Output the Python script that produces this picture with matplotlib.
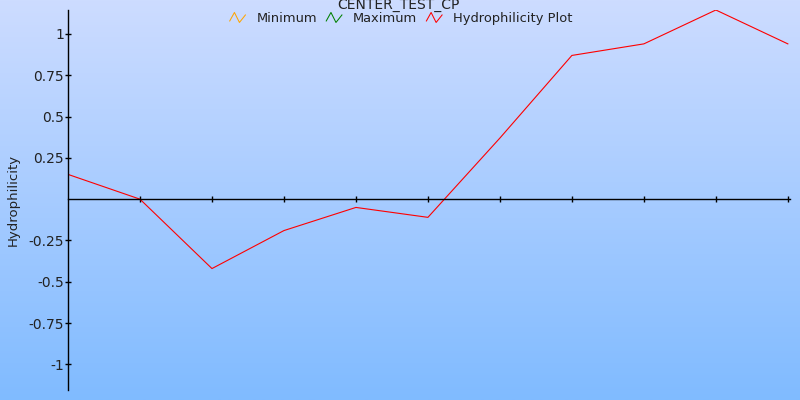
import numpy as np
import matplotlib
matplotlib.use("Agg")
from matplotlib import pyplot, ticker
from matplotlib.lines import Line2D
from matplotlib.legend_handler import HandlerBase

# data
positions = [0, 1, 2, 3, 4, 5, 6, 7, 8, 9, 10]
hydrophilicity = [0.15, 0.0, -0.42, -0.19, -0.05, -0.11, 0.37, 0.87, 0.94, 1.145, 0.94]
minimum = []
maximum = []
y_ticks = [-1, -0.75, -0.5, -0.25, 0.25, 0.5, 0.75, 1]
y_tick_labels = ["-1", "-0.75", "-0.5", "-0.25", "0.25", "0.5", "0.75", "1"]


class HandlerZigzag(HandlerBase):
    def create_artists(self, legend, orig_handle, xdescent, ydescent,
                       width, height, fontsize, trans):
        xs = np.array([0.0, 0.3, 0.62, 1.0]) * width - xdescent
        ys = np.array([0.15, 1.0, 0.0, 0.75]) * height - ydescent
        line = Line2D(xs, ys, color=orig_handle.get_color(), linewidth=0.75,
                      transform=trans)
        return [line]


def main():
    fig = pyplot.figure(figsize=(8, 4), dpi=100)

    # gradient background
    bg = fig.add_axes([0, 0, 1, 1], zorder=-10)
    top = np.array([205, 220, 255]) / 255.0
    bottom = np.array([128, 187, 255]) / 255.0
    t = np.linspace(0, 1, 256)[:, None]
    grad = (top[None, :] * (1 - t) + bottom[None, :] * t)[:, None, :]
    bg.imshow(grad, aspect="auto", extent=[0, 1, 0, 1])
    bg.set_axis_off()

    ax = fig.add_axes([68 / 800, 10 / 400, 722 / 800, 380 / 400])
    ax.set_facecolor("none")

    l_min, = ax.plot(minimum, minimum, color="#ffa500", linewidth=0.75, label="Minimum")
    l_max, = ax.plot(maximum, maximum, color="#008000", linewidth=0.75, label="Maximum")
    l_hyd, = ax.plot(positions, hydrophilicity, color="#ff0000", linewidth=0.8,
                     label="Hydrophilicity Plot")

    ax.set_xlim(0, 10.03)
    ax.set_ylim(-1.155, 1.145)

    for side in ["top", "right"]:
        ax.spines[side].set_visible(False)
    ax.spines["bottom"].set_position(("data", 0))
    ax.spines["left"].set_position(("data", 0))
    ax.spines["bottom"].set_linewidth(1.0)
    ax.spines["left"].set_linewidth(1.0)

    ax.xaxis.set_major_locator(ticker.FixedLocator(positions[1:]))
    ax.xaxis.set_major_formatter(ticker.NullFormatter())
    ax.set_yticks(y_ticks)
    ax.set_yticklabels(y_tick_labels)
    ax.tick_params(axis="both", direction="inout", length=4, width=1,
                   labelsize=10, colors="black", pad=1)
    ax.tick_params(axis="y", labelcolor="#222222")

    ax.set_ylabel("Hydrophilicity", fontsize=9.5, color="#222222")
    ax.yaxis.set_label_coords(-48 / 722, 0.5)

    fig.text(0.4975, 1 - 5.5 / 400, "CENTER_TEST_CP", ha="center", va="center",
             fontsize=10, color="#222222")

    fig.legend(handles=[l_min, l_max, l_hyd], loc="center",
               bbox_to_anchor=(0.5015, 1 - 18.5 / 400), ncol=3, frameon=False,
               fontsize=9.4, handlelength=1.2, handleheight=0.8,
               handletextpad=0.85, columnspacing=0.7, labelcolor="#222222",
               borderpad=0.0, handler_map={Line2D: HandlerZigzag()})

    fig.savefig("out.png", dpi=100)


if __name__ == "__main__":
    main()
